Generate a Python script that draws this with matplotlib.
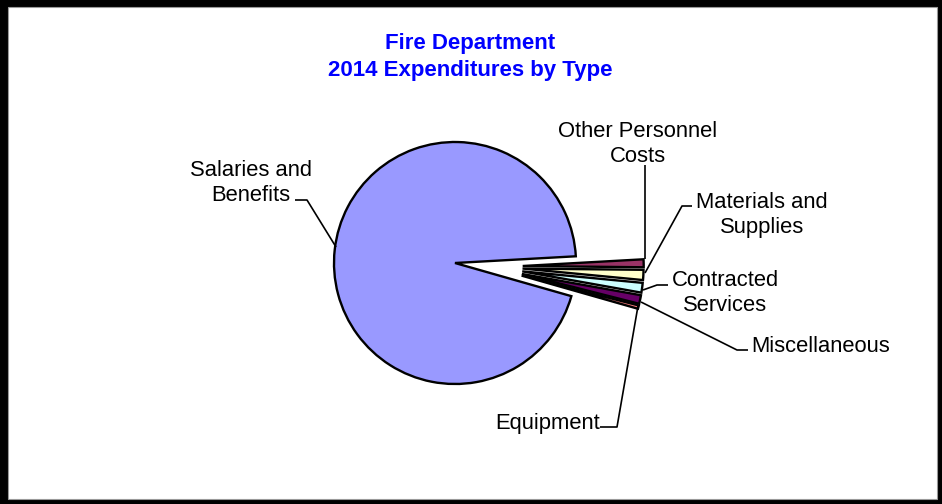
import math
import matplotlib
matplotlib.use("Agg")
import matplotlib.pyplot as plt
from matplotlib.patches import Rectangle

# Expenditure shares (percent of total)
categories = ["Salaries and\nBenefits", "Other Personnel\nCosts", "Materials and\nSupplies",
              "Contracted\nServices", "Miscellaneous", "Equipment"]
shares = [94.7, 1.05, 1.35, 1.3, 1.15, 0.45]
colors = ["#9999FF", "#993366", "#FFFFCC", "#CCFFFF", "#660066", "#FF8080"]
pulled_out = [False, True, True, True, True, True]

W, H = 942, 504
fig = plt.figure(figsize=(W / 100, H / 100), dpi=100, facecolor="black")
ax = fig.add_axes([0, 0, 1, 1])

# white chart area inside the black frame
ax.add_patch(Rectangle((8, 5), 929, 492, facecolor="white", edgecolor="#999999",
                       linewidth=0.8, zorder=0))

cx, cy, r = 455, H - 263, 121
wedges, _ = ax.pie(shares, colors=colors, startangle=-15.9, counterclock=False,
                   center=(cx, cy), radius=r,
                   wedgeprops=dict(edgecolor="black", linewidth=1.7))

# pull the small slices out as a group, fanning them slightly apart
dist = 0.56 * r
small = [w for w, p in zip(wedges, pulled_out) if p]
group_lo = min(w.theta1 for w in small)
group_hi = max(w.theta2 for w in small)
group_mid = 0.5 * (group_lo + group_hi)
for w in small:
    mid = 0.5 * (w.theta1 + w.theta2)
    ang = math.radians(group_mid + 0.5 * (mid - group_mid))
    w.set_center((cx + dist * math.cos(ang), cy + dist * math.sin(ang)))

ax.set_xlim(0, W)
ax.set_ylim(0, H)
ax.set_aspect("auto")
ax.axis("off")

font = ["Liberation Sans", "DejaVu Sans"]

def y(p):
    return H - p

ax.text(470, y(57), "Fire Department\n2014 Expenditures by Type", ha="center", va="center",
        color="#0000FF", fontsize=16, fontweight="bold", family=font, linespacing=1.33)

label_pos = [(251, 183), (638, 144), (762, 215), (725, 293), (821, 346), (548, 423)]
leaders = [
    [(295, 200), (307, 200), (336, 247)],
    [(645, 165), (645, 259)],
    [(692, 206), (682, 206), (645, 273)],
    [(668, 285), (657, 285), (643, 290)],
    [(748, 350), (737, 350), (641, 302)],
    [(600, 427), (617, 427), (638, 306)],
]
for text, (tx, ty), pts in zip(categories, label_pos, leaders):
    ax.text(tx, y(ty), text, ha="center", va="center", fontsize=15.8, family=font,
            color="black", linespacing=1.22)
    xs = [p[0] for p in pts]
    ys = [y(p[1]) for p in pts]
    ax.plot(xs, ys, color="black", linewidth=1.2, solid_capstyle="butt")

fig.savefig("out.png", dpi=100, facecolor="black")
